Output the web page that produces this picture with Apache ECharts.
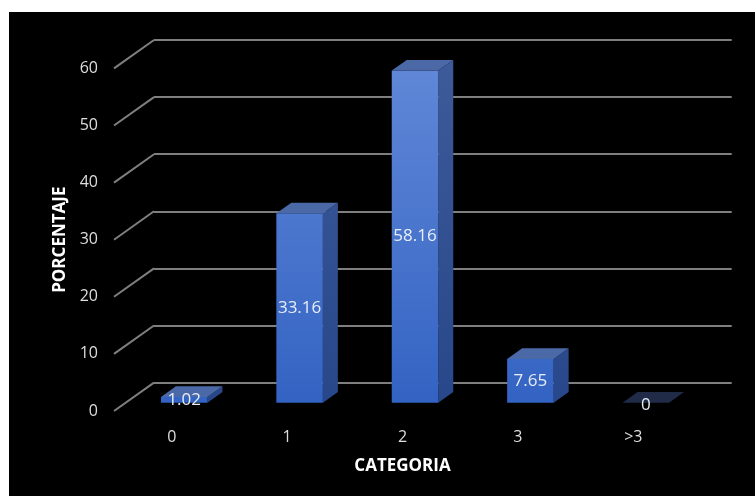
<!DOCTYPE html>
<html>
<head>
<meta charset="utf-8">
<script src="https://cdn.jsdelivr.net/npm/echarts@6/dist/echarts.min.js"></script>
<style>
  html, body { margin: 0; padding: 0; background: #fff; }
  #chart { width: 755px; height: 496px; }
</style>
</head>
<body>
<div id="chart"></div>
<script>
// Data
const categories = ['0', '1', '2', '3', '>3'];
const porcentaje = [1.02, 33.16, 58.16, 7.65, 0];
const yTicks = [0, 10, 20, 30, 40, 50, 60];

// 3D look: the floor recedes by DEPTH_X / DEPTH_Y from the front plane to the back wall
const DEPTH_X = 40, DEPTH_Y = 28.4;
// bars sit part way into the floor, and have their own thickness
const BAR_SHIFT_X = 12.5, BAR_SHIFT_Y = -8.3;
const BAR_DX = 15, BAR_DY = -10.7;
const BAR_RATIO = 0.403;

const chart = echarts.init(document.getElementById('chart'), null, { renderer: 'canvas' });

const labelFont = '"Open Sans", "Liberation Sans", sans-serif';

function renderDiagonal(params, api) {
  const v = api.value(1);
  const p = api.coord([0, v]);
  const band = api.size([1, 0])[0];
  const xl = p[0] - band / 2;
  return {
    type: 'line',
    shape: { x1: xl, y1: p[1], x2: xl + DEPTH_X, y2: p[1] - DEPTH_Y },
    style: { stroke: '#7f7f7f', lineWidth: 2 }
  };
}

function renderBar(params, api) {
  const i = api.value(0);
  const v = api.value(1);
  const base = api.coord([i, 0]);
  const top = api.coord([i, v]);
  const w = api.size([1, 0])[0] * BAR_RATIO;
  const x0 = base[0] + BAR_SHIFT_X - w / 2;
  const x1 = x0 + w;
  const yb = base[1] + BAR_SHIFT_Y;
  const yt = top[1] + BAR_SHIFT_Y;
  const flat = (yb - yt) < 0.5;

  const frontFill = new echarts.graphic.LinearGradient(0, 60, 0, 410, [
    { offset: 0, color: '#6188d8' },
    { offset: 1, color: '#3262c2' }
  ], true);
  const sideFill = new echarts.graphic.LinearGradient(0, 60, 0, 410, [
    { offset: 0, color: '#3d5a9a' },
    { offset: 1, color: '#27478a' }
  ], true);

  const children = [];
  if (!flat) {
    children.push({
      type: 'polygon',
      shape: { points: [[x1, yb], [x1 + BAR_DX, yb + BAR_DY], [x1 + BAR_DX, yt + BAR_DY], [x1, yt]] },
      style: { fill: sideFill }
    });
    children.push({
      type: 'rect',
      shape: { x: x0, y: yt, width: w, height: yb - yt },
      style: { fill: frontFill }
    });
  }
  children.push({
    type: 'polygon',
    shape: { points: [[x0, yt], [x1, yt], [x1 + BAR_DX, yt + BAR_DY], [x0 + BAR_DX, yt + BAR_DY]] },
    style: { fill: flat ? '#1f2b47' : '#4b68a7' }
  });
  children.push({
    type: 'text',
    style: {
      text: String(porcentaje[i]),
      x: x0 + w / 2,
      y: (yt + yb) / 2 + (flat ? 2 : 0),
      align: 'center',
      verticalAlign: 'middle',
      fill: '#e8eef8',
      font: '17px ' + labelFont
    }
  });
  return { type: 'group', children: children };
}

const option = {
  backgroundColor: '#ffffff',
  animation: false,
  graphic: [{
    type: 'rect',
    z: -100,
    silent: true,
    shape: { x: 9, y: 12, width: 746, height: 484 },
    style: { fill: '#000000' }
  }],
  grid: [
    // front plane (labels, bars)
    { left: 114, top: 68.4, width: 577, height: 342.6 },
    // back wall (gridlines)
    { left: 154, top: 40, width: 577.7, height: 342.6 }
  ],
  xAxis: [
    {
      gridIndex: 0,
      type: 'category',
      data: categories,
      axisLine: { show: false },
      axisTick: { show: false },
      axisLabel: { color: '#dedede', fontSize: 16, fontFamily: labelFont, margin: 18 },
      name: 'CATEGORIA',
      nameLocation: 'middle',
      nameGap: 47,
      nameTextStyle: { color: '#ffffff', fontSize: 17, fontWeight: 'bold', fontFamily: labelFont }
    },
    {
      gridIndex: 1,
      type: 'category',
      data: categories,
      show: false
    }
  ],
  yAxis: [
    {
      gridIndex: 0,
      type: 'value',
      min: 0, max: 60, interval: 10,
      axisLine: { show: false },
      axisTick: { show: false },
      splitLine: { show: false },
      axisLabel: { color: '#dedede', fontSize: 16, fontFamily: labelFont, margin: 16 },
      name: 'PORCENTAJE',
      nameLocation: 'middle',
      nameRotate: 90,
      nameGap: 44,
      nameTextStyle: { color: '#ffffff', fontSize: 17, fontWeight: 'bold', fontFamily: labelFont }
    },
    {
      gridIndex: 1,
      type: 'value',
      min: 0, max: 60, interval: 10,
      axisLine: { show: false },
      axisTick: { show: false },
      axisLabel: { show: false },
      splitLine: { show: true, lineStyle: { color: '#7f7f7f', width: 2 } }
    }
  ],
  series: [
    {
      type: 'custom',
      name: 'floor',
      xAxisIndex: 0, yAxisIndex: 0,
      silent: true,
      renderItem: renderDiagonal,
      data: yTicks.map(t => [0, t]),
      z: 1
    },
    {
      type: 'custom',
      name: 'PORCENTAJE',
      xAxisIndex: 0, yAxisIndex: 0,
      renderItem: renderBar,
      data: porcentaje.map((v, i) => [i, v]),
      z: 3
    }
  ]
};

chart.setOption(option);
</script>
</body>
</html>
